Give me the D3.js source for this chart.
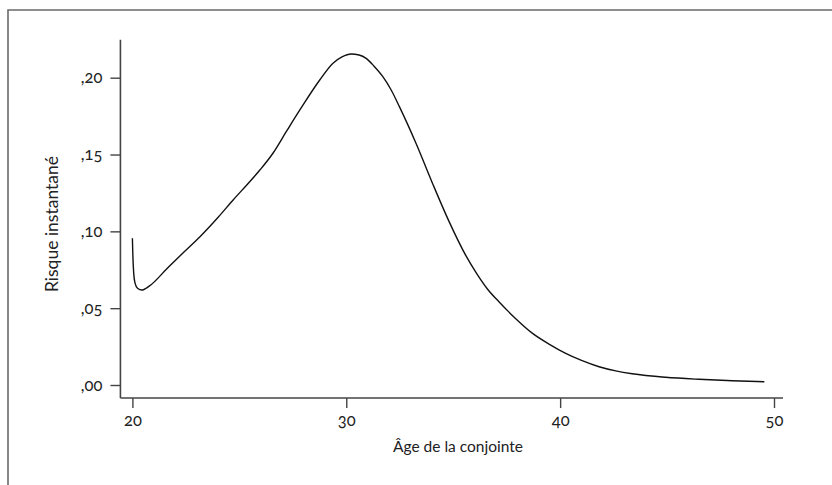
<!DOCTYPE html>
<html>
<head>
<meta charset="utf-8">
<script src="https://cdn.jsdelivr.net/npm/d3@7"></script>
<style>
  html, body { margin: 0; padding: 0; background: #fff; }
  svg text { font-family: Lato, "Open Sans", sans-serif; font-feature-settings: "onum" 1; font-variant-numeric: oldstyle-nums; fill: #222; }
</style>
</head>
<body>
<svg id="chart" width="832" height="485"></svg>
<script>
// ---- Data ----
const ages = [20.0, 20.02, 20.06, 20.12, 20.25, 20.44, 20.8, 21.6, 22.4, 23.16, 24.0, 24.71, 25.4, 25.96, 26.58, 27.2, 27.83, 28.76, 29.38, 29.8, 30.23, 30.6, 30.93, 31.3, 31.71, 32.1, 32.49, 33.27, 34.04, 34.82, 35.6, 36.1, 36.6, 37.15, 37.9, 38.71, 39.5, 40.26, 41.0, 41.82, 42.6, 43.37, 44.93, 46.49, 48.04, 49.55];
const hazard = [0.0955, 0.085, 0.073, 0.0665, 0.0628, 0.0618, 0.0645, 0.0755, 0.0864, 0.0965, 0.109, 0.1204, 0.131, 0.1399, 0.151, 0.165, 0.179, 0.1985, 0.2094, 0.2135, 0.2154, 0.2148, 0.2126, 0.2075, 0.2007, 0.192, 0.181, 0.157, 0.131, 0.106, 0.084, 0.0725, 0.0625, 0.054, 0.0435, 0.0336, 0.0265, 0.0206, 0.016, 0.0119, 0.0092, 0.0073, 0.0050, 0.0037, 0.0028, 0.0021];
const xTicks = [20, 30, 40, 50];
const yTicks = [0, 0.05, 0.10, 0.15, 0.20];
const xAxisExtent = [19.44, 50.42];
const yAxisExtent = [-0.0085, 0.2247];
const xTitle = "Âge de la conjointe";
const yTitle = "Risque instantané";

const svg = d3.select("#chart");

// outer frame (open to the right and bottom)
svg.append("path")
  .attr("d", "M8,485 L8,10 L832,10")
  .attr("fill", "none").attr("stroke", "#6a6a6a").attr("stroke-width", 1.6);

const x = d3.scaleLinear().domain([20, 50]).range([132.4, 774]);
const y = d3.scaleLinear().domain([0, 0.2]).range([385, 77.7]);

const axisColor = "#444";

// X axis
const gx = svg.append("g").attr("transform", `translate(0,${y(yAxisExtent[0])})`)
  .call(d3.axisBottom(x).tickValues(xTicks).tickSize(10).tickPadding(6).tickFormat(d3.format("d")));
gx.select(".domain").remove();
gx.append("line").attr("x1", x(xAxisExtent[0])).attr("x2", x(xAxisExtent[1]))
  .attr("stroke", axisColor).attr("stroke-width", 1.6);
gx.selectAll(".tick line").attr("stroke", axisColor).attr("stroke-width", 1.4);
gx.selectAll(".tick text").attr("font-size", 16.5).attr("fill", "#222");

// Y axis
const gy = svg.append("g").attr("transform", `translate(${x(xAxisExtent[0])},0)`)
  .call(d3.axisLeft(y).tickValues(yTicks).tickSize(10).tickPadding(8)
    .tickFormat(d => d3.format(".2f")(d).replace("0.", ",")));
gy.select(".domain").remove();
gy.append("line").attr("y1", y(yAxisExtent[0])).attr("y2", y(yAxisExtent[1]))
  .attr("stroke", axisColor).attr("stroke-width", 1.6);
gy.selectAll(".tick line").attr("stroke", axisColor).attr("stroke-width", 1.4);
gy.selectAll(".tick text").attr("font-size", 16.5).attr("fill", "#222");

// Curve
const data = ages.map((a, i) => ({ a, h: hazard[i] }));
svg.append("path").datum(data)
  .attr("fill", "none").attr("stroke", "#111").attr("stroke-width", 1.4)
  .attr("d", d3.line().x(d => x(d.a)).y(d => y(d.h)).curve(d3.curveMonotoneX));

// Titles
svg.append("text").attr("x", 458).attr("y", 452).attr("text-anchor", "middle")
  .attr("font-size", 15.5).text(xTitle);
svg.append("text").attr("transform", "translate(58,224) rotate(-90)").attr("text-anchor", "middle")
  .attr("font-size", 17.5).text(yTitle);
</script>
</body>
</html>
